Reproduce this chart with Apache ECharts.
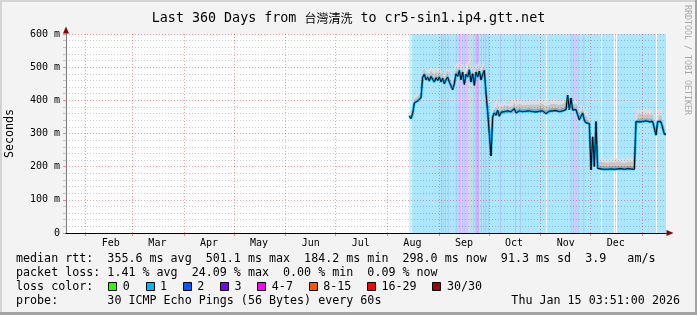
<!DOCTYPE html>
<html><head><meta charset="utf-8">
<script src="https://cdn.jsdelivr.net/npm/echarts@6/dist/echarts.min.js"></script>
<style>html,body{margin:0;padding:0;background:#f3f3f3}#c{width:697px;height:315px}</style>
</head><body><div id="c"></div>
<script>
// ---- data ----
const monthNames = ['Feb','Mar','Apr','May','Jun','Jul','Aug','Sep','Oct','Nov','Dec'];
const monthStarts = [[2025,1],[2025,2],[2025,3],[2025,4],[2025,5],[2025,6],[2025,7],[2025,8],[2025,9],[2025,10],[2025,11],[2026,0]];
const yTicks = [0,100,200,300,400,500,600];
// one value per day, starting 2025-08-14 (ms)
const medianRtt = [
353,345,360,392,396,398,404,408,470,478,
462,470,458,472,464,455,468,460,470,456,
466,450,462,470,455,460,432,450,480,472,
490,462,485,448,478,470,492,455,480,445,
485,470,488,462,478,490,422,365,370,232,
350,362,355,370,352,364,358,366,360,368,
362,366,360,375,362,365,368,364,366,362,
367,365,368,364,366,369,365,362,367,366,
368,364,360,366,367,365,368,366,369,367,
366,370,368,368,372,416,371,407,371,370,
372,368,341,345,362,340,332,334,330,190,
290,200,336,195,192,193,191,192,194,192,
191,193,192,192,191,193,192,194,193,192,
193,194,192,193,194,192,336,338,335,337,
336,334,338,336,335,333,336,334,295,336,
333,335,330,298,298
];
// height of the smoke above the median (ms)
const smokeSpread = [
12,14,16,20,22,24,22,25,30,28,
32,26,34,30,28,35,30,32,28,34,
30,26,32,30,36,28,34,30,38,32,
30,36,28,40,30,34,32,36,30,38,
28,34,32,36,30,28,30,28,30,20,
30,32,34,30,28,32,30,34,32,30,
28,32,34,30,32,30,34,32,30,33,
31,34,30,32,33,30,34,31,32,30,
33,32,34,31,30,32,33,34,31,30,
32,34,33,30,32,20,28,22,26,28,
30,26,28,30,26,30,32,30,28,25,
20,28,20,30,32,34,30,33,35,31,
34,32,30,33,35,32,34,31,33,30,
34,32,35,33,31,30,35,38,34,36,
37,35,38,34,36,37,35,36,25,36,
38,35,34,28,30
];
// loss background: [startDay, endDay, lossLevel] (days since window start)
const lossStripes = [
[206.1,360,1],
[206.8,207.4,0],[288.0,288.6,0],[321.0,321.6,0],[328.8,329.4,0],[330.0,330.6,0],[354.0,354.6,0],
[225.0,225.6,2],[226.0,226.6,2],[227.4,228.0,2],[229.0,229.6,2],[233.8,234.4,2],[237.8,238.4,2],
[239.0,239.6,2],[244.4,245.0,2],[249.0,249.6,2],[250.4,251.0,2],[251.4,252.0,2],[253.0,253.6,2],
[260.4,261.0,2],[269.4,270.0,2],[272.4,273.0,2],[302.8,303.4,2],[304.0,304.6,2],[307.0,307.6,2],[310.4,311.0,2],
[235.6,236.2,3],[245.8,247.8,3],
[236.2,237.0,4],[240.0,241.0,4],[305.1,306.2,4],
[242.6,243.2,5]
];
const lossLabels = ['0','1','2','3','4-7','8-15','16-29','30/30'];
const lossColors = ['#26ff00','#00b8ff','#0059ff','#7e00ff','#ff00ff','#ff5500','#ff0000','#a10000'];
const rttStats = ['355.6','501.1','184.2','298.0','91.3','3.9'];
const lossStats = ['1.41','24.09','0.00','0.09'];

// ---- chart ----
const DAY = 86400000;
const winStart = Date.UTC(2025,0,20,3,51);
const winEnd = Date.UTC(2026,0,15,3,51);
const seriesStart = Date.UTC(2025,7,14,3,51);
const tickVals = monthStarts.map(m => Date.UTC(m[0], m[1], 1));
const labelVals = monthStarts.slice(0, monthNames.length).map(m => Date.UTC(m[0], m[1], 16));
const MONO = '"DejaVu Sans Mono", monospace';

function tint(hex, a) {
  const r = parseInt(hex.slice(1,3),16), g = parseInt(hex.slice(3,5),16), b = parseInt(hex.slice(5,7),16);
  const m = c => Math.round(c*a + 255*(1-a));
  return 'rgb(' + m(r) + ',' + m(g) + ',' + m(b) + ')';
}
const bgColors = lossColors.map((c, i) => i === 0 ? '#ffffff' : tint(c, 0.33));

const medData = medianRtt.map((v, i) => [seriesStart + i*DAY, v]);
const layer = f => smokeSpread.map((v, i) => [seriesStart + i*DAY, v*f]);

const chart = echarts.init(document.getElementById('c'), null, {renderer:'canvas'});

const LW = 7.03, LX = 16;
const rowY = [259, 273, 287, 301];
const lfont = 11.68;
const graphics = [];
function txt(t, x, y, extra) {
  graphics.push(Object.assign({type:'text', silent:true, x:x, y:y,
    style:{text:t, fontFamily:MONO, fontSize:lfont, fill:'#000', verticalAlign:'middle', align:'left'}}, extra||{}));
}
txt('median rtt:  ' + rttStats[0] + ' ms avg  ' + rttStats[1] + ' ms max  ' + rttStats[2] + ' ms min  ' + rttStats[3] + ' ms now  ' + rttStats[4] + ' ms sd  ' + rttStats[5] + '   am/s', LX, rowY[0]);
txt('packet loss: ' + lossStats[0] + ' % avg  ' + lossStats[1] + ' % max  ' + lossStats[2] + ' % min  ' + lossStats[3] + ' % now', LX, rowY[1]);
txt('loss color:', LX, rowY[2]);
txt('probe:       30 ICMP Echo Pings (56 Bytes) every 60s', LX, rowY[3]);
graphics.push({type:'text', silent:true, x:680, y:rowY[3], style:{text:'Thu Jan 15 03:51:00 2026', fontFamily:MONO, fontSize:lfont, fill:'#000', verticalAlign:'middle', align:'right'}});
let bx = 108.3;
lossLabels.forEach((lab, i) => {
  graphics.push({type:'rect', silent:true, shape:{x:Math.round(bx)+0.5, y:282.5, width:8, height:8},
    style:{fill:lossColors[i], stroke:'#000', lineWidth:1}});
  txt(lab, bx + 14.5, rowY[2]);
  bx += (lab.length + 4.3) * LW;
});
// watermark
graphics.push({type:'text', silent:true, x:687, y:5, rotation:-Math.PI/2,
  style:{text:'RRDTOOL / TOBI OETIKER', fontFamily:MONO, fontSize:8.3, fill:'#a8a8a8', verticalAlign:'middle', align:'left'}});
// frame
graphics.push({type:'rect', silent:true, shape:{x:0,y:0,width:697,height:2}, style:{fill:'#d4d4d4'}});
graphics.push({type:'rect', silent:true, shape:{x:0,y:0,width:2,height:315}, style:{fill:'#d4d4d4'}});
graphics.push({type:'rect', silent:true, shape:{x:695,y:0,width:2,height:315}, style:{fill:'#a3a3a3'}});
graphics.push({type:'rect', silent:true, shape:{x:0,y:312,width:697,height:3}, style:{fill:'#a3a3a3'}});

const gridGap = {color:'rgba(255,0,0,0.38)', type:[1,2], width:1};

chart.setOption({
  animation:false,
  backgroundColor:'#f3f3f3',
  textStyle:{fontFamily:MONO},
  title:{
    text:'{a|Last 360 Days from }{c|台灣清洗}{a| to cr5-sin1.ip4.gtt.net}',
    left:'center', top:7,
    textStyle:{fontWeight:'normal', color:'#000', fontSize:13.35, fontFamily:MONO,
      rich:{a:{fontSize:13.35, fontFamily:MONO, color:'#000'},
            c:{fontSize:12, fontFamily:'"Noto Sans CJK TC", sans-serif', color:'#000'}}}
  },
  grid:{left:66, top:34, width:600, height:199, containLabel:false, outerBoundsMode:'none',
        show:true, backgroundColor:'#ffffff', borderWidth:0},
  xAxis:[{
    type:'value', min:winStart, max:winEnd, z:4, scale:true,
    axisLine:{show:true, lineStyle:{color:'#000', width:1}},
    axisTick:{show:true, length:3, customValues:tickVals, lineStyle:{color:'rgba(255,0,0,0.45)'}},
    axisLabel:{show:true, customValues:labelVals, margin:5, fontSize:10, fontFamily:MONO, color:'#000',
      formatter:(v) => { let best=0, bd=Infinity; labelVals.forEach((lv,i)=>{const d=Math.abs(lv-v); if(d<bd){bd=d;best=i;}}); return monthNames[best]; }},
    splitLine:{show:true, lineStyle:gridGap},
    minorTick:{show:false}, minorSplitLine:{show:false}
  },{
    type:'value', min:winStart, max:winEnd, z:3, position:'bottom', scale:true,
    axisLine:{show:true, symbol:['none','triangle'], symbolSize:[6,7], symbolOffset:[0,4], lineStyle:{color:'#8b0000', width:1}},
    axisTick:{show:false}, axisLabel:{show:false}, splitLine:{show:false}
  },{
    type:'time', min:winStart, max:winEnd, show:false, position:'bottom'
  }],
  yAxis:[{
    type:'value', min:0, max:600, interval:100, z:4,
    name:'Seconds', nameLocation:'middle', nameRotate:90, nameGap:50,
    nameTextStyle:{fontFamily:MONO, fontSize:11.68, color:'#000'},
    axisLine:{show:true, lineStyle:{color:'#7a7a7a', width:1}},
    axisTick:{show:true, length:3, lineStyle:{color:'rgba(255,0,0,0.45)'}},
    minorTick:{show:true, splitNumber:5, length:3, lineStyle:{color:'#c4c4c4'}},
    axisLabel:{margin:6, fontSize:10, fontFamily:MONO, color:'#000',
      formatter:(v) => v === 0 ? '0' : v + ' m'},
    splitLine:{show:true, lineStyle:gridGap},
    minorSplitLine:{show:true, lineStyle:{color:'rgba(0,0,0,0.2)', type:[1,2], width:1}}
  },{
    type:'value', min:0, max:600, interval:100, z:3, position:'left', offset:0,
    axisLine:{show:true, symbol:['none','triangle'], symbolSize:[6,7], symbolOffset:[0,4], lineStyle:{color:'#8b0000', width:1}},
    axisTick:{show:false}, axisLabel:{show:false}, splitLine:{show:false}
  }],
  graphic:graphics,
  series:[
    {
      type:'custom', name:'loss', silent:true, z:1,
      data:lossStripes.map(s => [winStart + s[0]*DAY, winStart + s[1]*DAY, s[2]]),
      encode:{x:[0,1]},
      renderItem:(params, api) => {
        const a = api.coord([api.value(0), 0]);
        const b = api.coord([api.value(1), 0]);
        const cs = params.coordSys;
        return {type:'rect', shape:{x:a[0], y:cs.y, width:Math.max(b[0]-a[0], 1), height:cs.height},
                style:{fill:bgColors[api.value(2)]}};
      }
    },
    {type:'line', name:'base', stack:'smoke', xAxisIndex:2, data:medData, symbol:'none', silent:true, z:2,
     lineStyle:{opacity:0, width:0}},
    {type:'line', name:'s1', stack:'smoke', xAxisIndex:2, data:layer(0.3), symbol:'none', silent:true, z:2,
     lineStyle:{width:0, opacity:0}, areaStyle:{color:'#a9a9a9', opacity:1}},
    {type:'line', name:'s2', stack:'smoke', xAxisIndex:2, data:layer(0.35), symbol:'none', silent:true, z:2,
     lineStyle:{width:0, opacity:0}, areaStyle:{color:'#c6c6c6', opacity:1}},
    {type:'line', name:'s3', stack:'smoke', xAxisIndex:2, data:layer(0.35), symbol:'none', silent:true, z:2,
     lineStyle:{width:0, opacity:0}, areaStyle:{color:'#dedede', opacity:1}},
    {type:'line', name:'lossline', xAxisIndex:2, data:medData, symbol:'none', silent:true, z:2,
     lineStyle:{color:'#00b8ff', width:2.5}},
    {type:'line', name:'median', xAxisIndex:2, data:medData, symbol:'none', silent:true, z:2,
     lineStyle:{color:'#000', width:1}}
  ]
});
</script></body></html>
